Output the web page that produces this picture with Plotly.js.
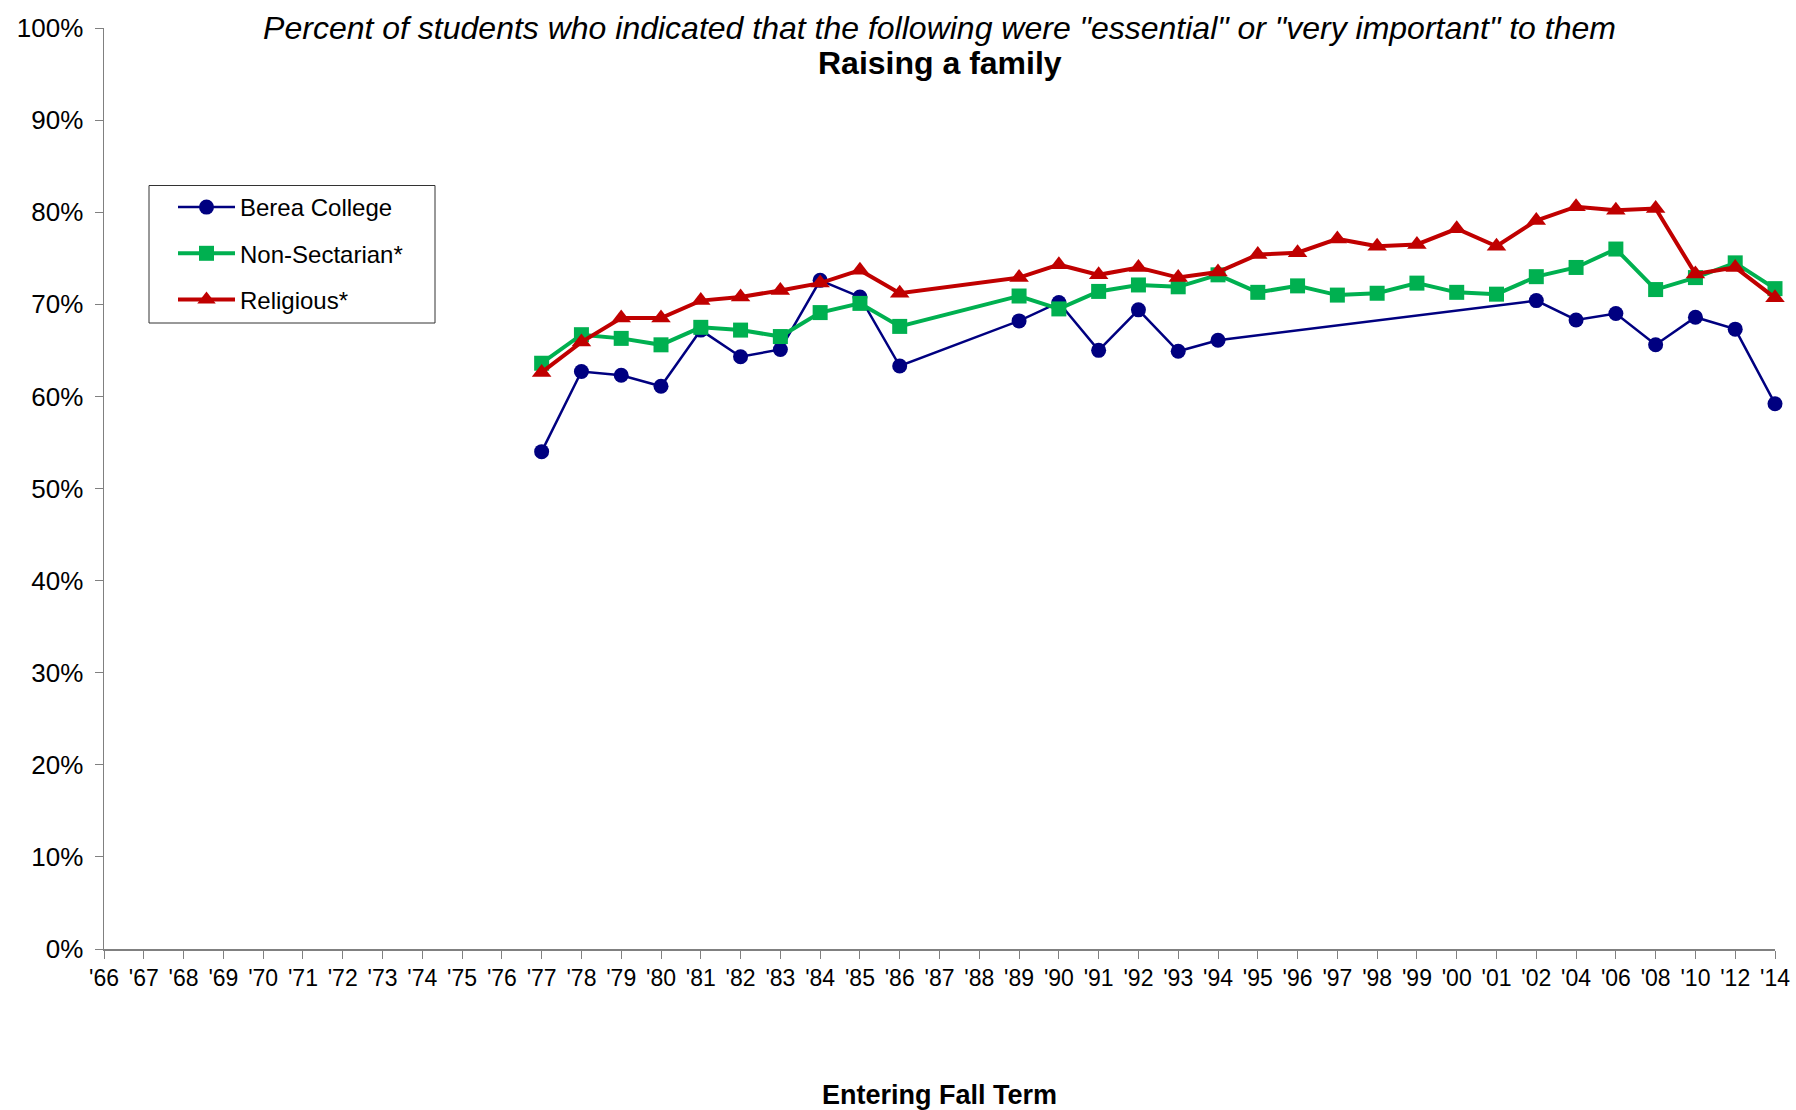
<!DOCTYPE html>
<html>
<head>
<meta charset="utf-8">
<script src="https://cdn.plot.ly/plotly-3.0.1.min.js"></script>
<style>
  html, body { margin: 0; padding: 0; background: #ffffff; }
  #chart { width: 1796px; height: 1110px; }
</style>
</head>
<body>
<div id="chart"></div>
<script>
const years = ["'66","'67","'68","'69","'70","'71","'72","'73","'74","'75","'76","'77","'78","'79","'80","'81","'82","'83","'84","'85","'86","'87","'88","'89","'90","'91","'92","'93","'94","'95","'96","'97","'98","'99","'00","'01","'02","'04","'06","'08","'10","'12","'14"];

// values in percent; null = no data
const berea = [null,null,null,null,null,null,null,null,null,null,null,
  54.0,62.7,62.3,61.1,67.2,64.3,65.1,72.6,70.8,63.3,null,null,
  68.2,70.2,65.0,69.4,64.9,66.1,null,null,null,null,null,null,null,
  70.4,68.3,69.0,65.6,68.6,67.3,59.2];

const nonSectarian = [null,null,null,null,null,null,null,null,null,null,null,
  63.6,66.7,66.3,65.6,67.5,67.2,66.5,69.1,70.1,67.6,null,null,
  70.9,69.5,71.4,72.1,71.9,73.2,71.3,72.0,71.0,71.2,72.3,71.3,71.1,
  73.0,74.0,76.0,71.6,72.9,74.5,71.7];

const religious = [null,null,null,null,null,null,null,null,null,null,null,
  62.6,65.9,68.5,68.5,70.4,70.8,71.5,72.3,73.7,71.2,null,null,
  72.9,74.3,73.2,74.0,72.9,73.5,75.4,75.6,77.1,76.3,76.5,78.2,76.3,
  79.1,80.6,80.2,80.4,73.3,74.0,70.7];

const seriesNames = ["Berea College", "Non-Sectarian*", "Religious*"];
const yTicks = [0,10,20,30,40,50,60,70,80,90,100];

const FONT = "Liberation Sans, Arial, Helvetica, sans-serif";

const traces = [
  {
    x: years, y: berea, name: seriesNames[0], legendgroup: 'a', type: 'scatter', mode: 'lines+markers',
    connectgaps: true, cliponaxis: false,
    line: {color: '#000080', width: 2.5},
    marker: {symbol: 'circle', size: 15, color: '#000080'}
  },
  {
    x: years, y: nonSectarian, name: seriesNames[1], legendgroup: 'b', type: 'scatter', mode: 'lines+markers',
    connectgaps: true, cliponaxis: false,
    line: {color: '#00B050', width: 4},
    marker: {symbol: 'square', size: 15, color: '#00B050'}
  },
  {
    x: years, y: religious, name: seriesNames[2], legendgroup: 'c', type: 'scatter', mode: 'lines+markers',
    connectgaps: true, cliponaxis: false,
    line: {color: '#C00000', width: 4},
    marker: {symbol: 'triangle-up', size: 17, color: '#C00000'}
  }
];

const layout = {
  width: 1796, height: 1110,
  paper_bgcolor: '#ffffff', plot_bgcolor: '#ffffff',
  font: {family: FONT, color: '#000000', size: 22},
  margin: {l: 104, r: 21, t: 28, b: 161, pad: 0},
  showlegend: true,
  title: {
    text: '<i>Percent of students who indicated that the following were "essential" or "very important" to them</i>',
    font: {family: FONT, size: 32, color: '#000000'},
    x: 0.5, xref: 'paper', xanchor: 'center',
    y: 1 - 27.5/1110, yref: 'container', yanchor: 'middle'
  },
  annotations: [{
    text: '<b>Raising a family</b>',
    xref: 'paper', yref: 'paper', x: 0.5, y: (949 - 63) / 921,
    xanchor: 'center', yanchor: 'middle', showarrow: false,
    font: {family: FONT, size: 32, color: '#000000'}
  }],
  shapes: [{
    type: 'rect', xref: 'paper', yref: 'paper',
    x0: (149 - 104) / 1671, x1: (435 - 104) / 1671,
    y0: (949 - 323) / 921, y1: (949 - 185.5) / 921,
    line: {color: '#333333', width: 1}, fillcolor: 'rgba(0,0,0,0)', layer: 'below'
  }],
  xaxis: {
    type: 'category',
    categoryorder: 'array', categoryarray: years,
    range: [0, years.length - 1],
    showgrid: false, zeroline: false,
    showline: true, linecolor: '#808080', linewidth: 1.5,
    ticks: 'outside', ticklen: 8, tickwidth: 1, tickcolor: '#808080',
    tickfont: {family: FONT, size: 23, color: '#000000'},
    tickangle: 0,
    title: {text: '<b>Entering Fall Term</b>', font: {family: FONT, size: 27, color: '#000000'}, standoff: 95}
  },
  yaxis: {
    range: [0, 100],
    tickvals: yTicks,
    ticktext: yTicks.map(v => v + '%'),
    showgrid: false, zeroline: false,
    showline: true, linecolor: '#808080', linewidth: 1.5,
    ticks: 'outside', ticklen: 8, tickwidth: 1, tickcolor: '#808080',
    tickfont: {family: FONT, size: 26, color: '#000000'},
    ticklabelstandoff: 6
  },
  legend: {
    x: (173 - 104) / 1671, xanchor: 'left', xref: 'paper',
    y: (949 - 185) / 921, yanchor: 'top', yref: 'paper',
    bgcolor: 'rgba(255,255,255,0)', borderwidth: 0,
    font: {family: FONT, size: 24, color: '#000000'},
    itemwidth: 57,
    tracegroupgap: 12
  }
};

Plotly.newPlot('chart', traces, layout, {displayModeBar: false, staticPlot: true});
</script>
</body>
</html>
